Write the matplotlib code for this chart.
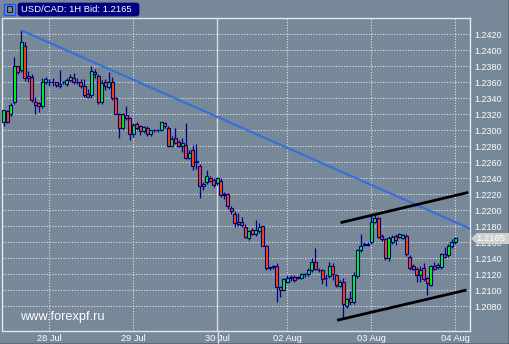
import numpy as np
import matplotlib.pyplot as plt
from matplotlib.patches import FancyBboxPatch, Polygon, Rectangle
from matplotlib.lines import Line2D

plt.rcParams['font.family'] = ['Liberation Sans', 'DejaVu Sans']

# hourly candles, USD/CAD (bar index 0..129)
opens = [1.2311, 1.2324, 1.2320, 1.2335, 1.2380, 1.2375, 1.2406, 1.2368, 1.2367, 1.2335,
         1.2334, 1.2331, 1.2360, 1.2360, 1.2360, 1.2360, 1.2355, 1.2360, 1.2358, 1.2363,
         1.2366, 1.2361, 1.2360, 1.2355, 1.2345, 1.2344, 1.2373, 1.2368, 1.2335, 1.2361,
         1.2354, 1.2361, 1.2340, 1.2320, 1.2303, 1.2319, 1.2315, 1.2295, 1.2308, 1.2305,
         1.2299, 1.2303, 1.2295, 1.2300, 1.2300, 1.2301, 1.2309, 1.2303, 1.2281, 1.2291,
         1.2285, 1.2281, 1.2282, 1.2266, 1.2275, 1.2262, 1.2255, 1.2230, 1.2236, 1.2240,
         1.2238, 1.2234, 1.2237, 1.2219, 1.2221, 1.2203, 1.2195, 1.2186, 1.2185, 1.2179,
         1.2165, 1.2175, 1.2171, 1.2174, 1.2180, 1.2155, 1.2129, 1.2130, 1.2130, 1.2104,
         1.2100, 1.2111, 1.2116, 1.2117, 1.2116, 1.2116, 1.2120, 1.2120, 1.2125, 1.2135,
         1.2126, 1.2125, 1.2115, 1.2118, 1.2130, 1.2119, 1.2106, 1.2110, 1.2081, 1.2090,
         1.2085, 1.2118, 1.2150, 1.2157, 1.2157, 1.2160, 1.2186, 1.2190, 1.2168, 1.2164,
         1.2140, 1.2160, 1.2168, 1.2167, 1.2166, 1.2168, 1.2142, 1.2130, 1.2127, 1.2119,
         1.2128, 1.2115, 1.2107, 1.2130, 1.2129, 1.2129, 1.2146, 1.2144, 1.2155, 1.2160]
highs = [1.2326, 1.2326, 1.2334, 1.2392, 1.2381, 1.2425, 1.2410, 1.2374, 1.2370, 1.2342,
         1.2336, 1.2365, 1.2367, 1.2364, 1.2366, 1.2361, 1.2375, 1.2362, 1.2366, 1.2370,
         1.2372, 1.2366, 1.2364, 1.2364, 1.2352, 1.2380, 1.2377, 1.2370, 1.2363, 1.2364,
         1.2373, 1.2367, 1.2342, 1.2322, 1.2322, 1.2330, 1.2317, 1.2309, 1.2310, 1.2307,
         1.2306, 1.2305, 1.2301, 1.2302, 1.2302, 1.2311, 1.2311, 1.2305, 1.2293, 1.2303,
         1.2288, 1.2290, 1.2309, 1.2275, 1.2282, 1.2283, 1.2258, 1.2235, 1.2250, 1.2243,
         1.2241, 1.2242, 1.2240, 1.2223, 1.2222, 1.2206, 1.2199, 1.2197, 1.2192, 1.2183,
         1.2176, 1.2178, 1.2188, 1.2184, 1.2181, 1.2157, 1.2131, 1.2132, 1.2134, 1.2106,
         1.2116, 1.2119, 1.2119, 1.2119, 1.2118, 1.2122, 1.2122, 1.2128, 1.2141, 1.2153,
         1.2128, 1.2127, 1.2120, 1.2135, 1.2134, 1.2121, 1.2113, 1.2115, 1.2090, 1.2099,
         1.2123, 1.2152, 1.2170, 1.2161, 1.2160, 1.2193, 1.2194, 1.2192, 1.2170, 1.2166,
         1.2168, 1.2169, 1.2170, 1.2172, 1.2171, 1.2170, 1.2144, 1.2133, 1.2129, 1.2131,
         1.2134, 1.2117, 1.2132, 1.2135, 1.2134, 1.2147, 1.2154, 1.2158, 1.2164, 1.2167]
lows = [1.2305, 1.2309, 1.2318, 1.2333, 1.2370, 1.2373, 1.2362, 1.2360, 1.2336, 1.2320,
        1.2323, 1.2328, 1.2358, 1.2356, 1.2355, 1.2354, 1.2353, 1.2358, 1.2356, 1.2361,
        1.2358, 1.2358, 1.2353, 1.2342, 1.2340, 1.2341, 1.2366, 1.2333, 1.2333, 1.2351,
        1.2352, 1.2338, 1.2320, 1.2290, 1.2301, 1.2313, 1.2288, 1.2292, 1.2300, 1.2294,
        1.2297, 1.2293, 1.2293, 1.2298, 1.2298, 1.2299, 1.2303, 1.2279, 1.2280, 1.2283,
        1.2279, 1.2273, 1.2264, 1.2264, 1.2251, 1.2252, 1.2215, 1.2226, 1.2233, 1.2235,
        1.2229, 1.2232, 1.2217, 1.2214, 1.2202, 1.2195, 1.2179, 1.2181, 1.2179, 1.2166,
        1.2163, 1.2169, 1.2168, 1.2172, 1.2155, 1.2126, 1.2125, 1.2127, 1.2086, 1.2092,
        1.2099, 1.2109, 1.2112, 1.2110, 1.2114, 1.2114, 1.2117, 1.2118, 1.2123, 1.2125,
        1.2123, 1.2108, 1.2106, 1.2116, 1.2113, 1.2104, 1.2104, 1.2065, 1.2078, 1.2082,
        1.2083, 1.2116, 1.2148, 1.2155, 1.2155, 1.2158, 1.2184, 1.2165, 1.2162, 1.2138,
        1.2137, 1.2158, 1.2157, 1.2165, 1.2164, 1.2143, 1.2125, 1.2125, 1.2110, 1.2110,
        1.2112, 1.2094, 1.2105, 1.2125, 1.2127, 1.2127, 1.2140, 1.2142, 1.2153, 1.2158]
closes = [1.2325, 1.2311, 1.2332, 1.2380, 1.2373, 1.2410, 1.2366, 1.2365, 1.2338, 1.2332,
          1.2330, 1.2361, 1.2364, 1.2361, 1.2360, 1.2357, 1.2358, 1.2360, 1.2363, 1.2367,
          1.2361, 1.2360, 1.2355, 1.2344, 1.2342, 1.2374, 1.2370, 1.2336, 1.2359, 1.2356,
          1.2360, 1.2340, 1.2321, 1.2303, 1.2320, 1.2316, 1.2295, 1.2307, 1.2303, 1.2299,
          1.2304, 1.2296, 1.2300, 1.2300, 1.2301, 1.2310, 1.2305, 1.2280, 1.2289, 1.2284,
          1.2281, 1.2284, 1.2265, 1.2272, 1.2255, 1.2260, 1.2230, 1.2233, 1.2243, 1.2237,
          1.2232, 1.2240, 1.2219, 1.2220, 1.2205, 1.2199, 1.2184, 1.2183, 1.2182, 1.2167,
          1.2174, 1.2171, 1.2176, 1.2179, 1.2155, 1.2128, 1.2128, 1.2129, 1.2104, 1.2100,
          1.2114, 1.2116, 1.2116, 1.2113, 1.2116, 1.2120, 1.2120, 1.2125, 1.2136, 1.2127,
          1.2125, 1.2114, 1.2116, 1.2130, 1.2120, 1.2107, 1.2111, 1.2083, 1.2089, 1.2085,
          1.2119, 1.2150, 1.2156, 1.2158, 1.2158, 1.2185, 1.2190, 1.2167, 1.2164, 1.2140,
          1.2166, 1.2167, 1.2163, 1.2170, 1.2169, 1.2145, 1.2128, 1.2127, 1.2119, 1.2126,
          1.2114, 1.2109, 1.2130, 1.2127, 1.2132, 1.2145, 1.2142, 1.2156, 1.2160, 1.2165]

day_idx = [13, 37, 61, 81, 105, 129]
day_labels = ['28 Jul', '29 Jul', '30 Jul', '02 Aug', '03 Aug', '04 Aug']
price_ticks = [1.2080 + 0.002 * k for k in range(18)]

# drawn lines (bar index, price)
trend_x = [5, 133.3]
trend_y = [1.2425, 1.2177]
chan_up_x = [96.6, 132.3]
chan_up_y = [1.2185, 1.2222]
chan_lo_x = [95.6, 131.8]
chan_lo_y = [1.2063, 1.2100]
last_price = 1.2165

W, H = 510, 344
bg = '#778899'
fig = plt.figure(figsize=(W / 100, H / 100), dpi=100)
fig.patch.set_facecolor(bg)

def fx(x):
    return x / W

def fy(y):
    return 1 - y / H

ax = fig.add_axes([fx(2.5), fy(331), fx(470) - fx(2.5), fy(18) - fy(331)])
ax.set_facecolor(bg)
ax.set_xlim(-0.37, 133.2)
ax.set_ylim(1.20492, 1.24404)

for s in ax.spines.values():
    s.set_color('#e6e6e6')
    s.set_linewidth(1.0)

# grid
for p in price_ticks:
    ax.axhline(p, color='#e4e4e4', lw=0.8, dashes=(1, 1.5), zorder=1)
for i, d in zip(day_idx, day_labels):
    if d == '30 Jul':
        ax.axvline(i, color='#dcdcdc', lw=1.0, zorder=1)
    else:
        ax.axvline(i, color='#e4e4e4', lw=0.8, dashes=(1, 1.5), zorder=1)

# candles
idx = np.arange(len(opens))
o = np.array(opens)
c = np.array(closes)
up = c >= o
ax.vlines(idx, lows, highs, color='#000080', lw=0.9, zorder=3)
body_lo = np.minimum(o, c)
body_h = np.maximum(np.abs(c - o), 0.00008)
ax.bar(idx[up], body_h[up], bottom=body_lo[up], width=0.78,
       color='#00ff00', edgecolor='#000080', lw=0.8, zorder=4)
ax.bar(idx[~up], body_h[~up], bottom=body_lo[~up], width=0.78,
       color='#ff4500', edgecolor='#000080', lw=0.8, zorder=4)

# trend lines
ax.plot(trend_x, trend_y, color='#3a6fd8', lw=1.6, zorder=5, solid_capstyle='butt')
ax.plot(chan_up_x, chan_up_y, color='black', lw=2.0, zorder=5)
ax.plot(chan_lo_x, chan_lo_y, color='black', lw=2.0, zorder=5)

# axes ticks
ax.yaxis.tick_right()
ax.set_yticks(price_ticks)
ax.set_yticklabels([f'{p:.4f}' for p in price_ticks])
ax.set_xticks(day_idx)
ax.set_xticklabels(day_labels)
ax.tick_params(axis='y', length=0, pad=3, labelsize=6.5, colors='white')
ax.tick_params(axis='x', length=0, pad=2.5, labelsize=6.7, colors='white')

# watermark
ax.text(0.037, 0.026, 'www.forexpf.ru', transform=ax.transAxes, color='white',
        fontsize=9.2, ha='left', va='bottom', zorder=6)

# 30 Jul line continues below the axis
fig.add_artist(Line2D([fx(218), fx(218)], [fy(331), fy(344)], color='#dcdcdc', lw=1.0))

# title box
fig.add_artist(FancyBboxPatch((fx(18), fy(16)), fx(121), 13 / H,
                              boxstyle='round,pad=0,rounding_size=0.006',
                              facecolor='#000080', edgecolor='#000080', lw=0.5))
fig.text(fx(21), fy(9.7), 'USD/CAD: 1H Bid: 1.2165', color='white',
         fontsize=6.8, ha='left', va='center')

# small icon
fig.add_artist(Rectangle((fx(4), fy(15)), fx(11), 11 / H, facecolor=bg,
                         edgecolor='#1e50ff', lw=1.0))
fig.add_artist(Rectangle((fx(7), fy(12)), fx(5), 6 / H, facecolor='none',
                         edgecolor='#1a1a40', lw=0.8))

# last price tag (covers the 1.2160 label, as in the terminal)
tag_y = fy(238.5)
tag = Polygon([(fx(471), tag_y), (fx(477), fy(233)), (fx(510), fy(233)),
               (fx(510), fy(244)), (fx(477), fy(244))], closed=True,
              facecolor='#cfcfcf', edgecolor='none', zorder=10)
fig.add_artist(tag)
fig.text(fx(476), tag_y, f'{last_price:.4f}', color='white', fontsize=6.8,
         ha='left', va='center', zorder=11)

# outer border (dark right and bottom)
fig.add_artist(Line2D([fx(509.5), fx(509.5)], [0, 1], color='black', lw=1.0))
fig.add_artist(Line2D([0, 1], [fy(343.5), fy(343.5)], color='black', lw=1.0))

fig.savefig('out.png', dpi=100, facecolor=bg)
